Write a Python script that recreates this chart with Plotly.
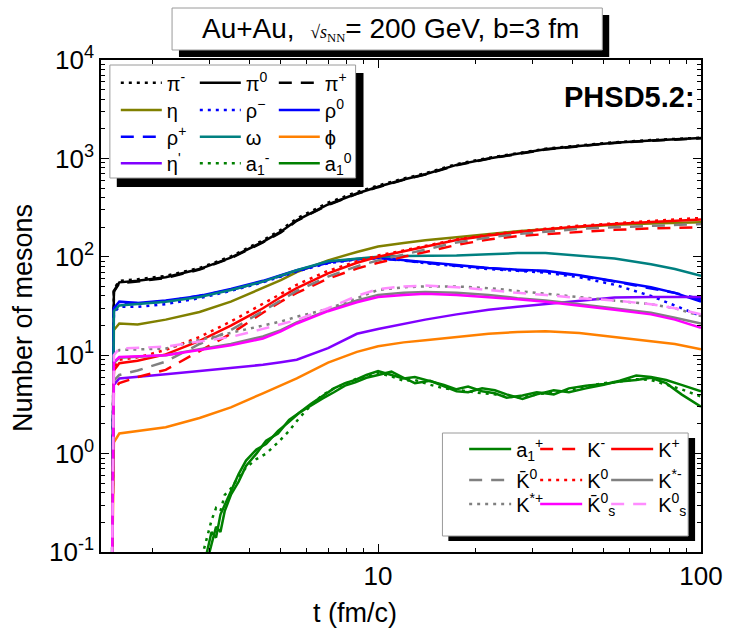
import plotly.graph_objects as go

# ---------------- data ----------------
t = [1.50, 1.52, 1.58, 1.8, 2.2, 2.8, 3.5, 4.4, 5.0, 5.6, 7.0, 8.6, 10, 12, 14, 17.5,
     22, 27, 33, 42, 54, 70, 83, 100]

pi_minus = [0.05, 47, 57, 59, 64, 77, 101, 147, 188, 245, 355, 455, 530, 625, 705, 875,
            1015, 1135, 1255, 1355, 1460, 1535, 1585, 1625]
pi_zero = [0.05, 45, 55, 57, 62, 75, 98, 142, 180, 235, 340, 440, 515, 610, 690, 860,
           1000, 1120, 1240, 1340, 1445, 1520, 1570, 1610]
pi_plus = [0.05, 44, 54, 56, 61, 74, 97, 140, 177, 232, 336, 436, 510, 605, 685, 852,
           990, 1110, 1230, 1330, 1435, 1510, 1560, 1600]
eta = [0.05, 18, 21, 20.5, 23, 27.5, 35, 48, 58, 70, 92, 112, 127, 138, 147, 158,
       170, 182, 190, 200, 212, 218, 221, 224]
rho_minus = [0.05, 27, 31, 31, 33, 38, 45, 55, 63, 71, 86, 94, 97, 92, 86, 80,
             75, 72, 69, 62, 52, 40, 32, 25]
rho_zero = [0.05, 30, 35, 34, 36, 40, 47, 57, 65, 73, 88, 95, 98, 93, 88, 82,
            77, 74, 72, 65, 57, 49, 43, 35]
rho_plus = [0.05, 29, 34, 34, 35, 40, 46, 56, 64, 72, 87, 95, 97, 92, 87, 81,
            76, 73, 71, 64, 56, 48, 43, 37]
omega = [0.05, 28, 32, 33, 35, 39, 46, 56, 64, 73, 90, 96, 100, 102, 102, 103,
         106, 109, 109, 103, 96, 84, 75, 64]
phi = [0.05, 1.3, 1.6, 1.7, 1.85, 2.3, 2.95, 4.1, 4.9, 5.8, 8.4, 10.8, 12.3, 13.5, 14.2, 15.4,
       16.5, 17.2, 17.5, 16.8, 15.3, 14.0, 13.0, 11.5]
eta_prime = [0.05, 5, 5.8, 6.0, 6.4, 6.9, 7.4, 8.0, 8.5, 9.0, 11.8, 16.5, 18.5, 21, 23, 26,
             29, 31, 33, 36, 38.5, 39, 39, 39]
k_minus = [0.05, 4.5, 5.2, 6, 7.1, 11, 16.5, 27, 35, 43, 60, 76, 87, 100, 112, 132,
           150, 162, 170, 180, 188, 194, 197, 200]
k_plus = [0.05, 7, 8.3, 8.8, 10.2, 14, 20, 30, 39, 48, 68, 87, 100, 113, 126, 148,
          165, 178, 190, 203, 216, 226, 233, 240]
k0_bar = [0.05, 5.5, 6.3, 7, 8.6, 13, 18, 28, 36, 45, 63, 80, 92, 105, 118, 140,
          157, 170, 180, 192, 200, 207, 211, 215]
k0 = [0.05, 7.5, 9, 9.5, 11.3, 15.3, 22, 33, 42, 52, 72, 90, 103, 116, 129, 150,
      168, 181, 193, 207, 220, 232, 240, 248]
kstar_minus = [0.05, 8.3, 9.4, 9.6, 10, 11.5, 13, 15.5, 18, 21.5, 28.5, 36, 41, 43, 44, 43,
               41, 38, 36, 33, 30, 27, 24, 21]
kstar_plus = [0.05, 10, 11.3, 11.5, 11.7, 14.3, 16.8, 20, 22, 24.6, 29.5, 38, 46, 49, 50, 50,
              48, 45, 42, 39, 36, 33, 30, 25]
k0bar_s = [0.05, 8.5, 9.6, 9.7, 10, 11.3, 12.6, 14.8, 17.5, 21, 28, 34.5, 39, 41, 42, 41,
           39, 37, 35, 32, 29, 26, 23, 19]
k0_s = [0.05, 10, 11.7, 11.9, 12.2, 13.8, 15.3, 18.5, 20.5, 22.8, 30, 40, 47, 50, 51, 49,
        46, 43, 41, 38, 36, 33, 30, 26]

t_a1 = [2.85, 2.95, 3.05, 3.15, 3.25, 3.35, 3.5, 3.7, 3.9, 4.2, 4.5, 4.9, 5.3, 5.7, 6.2,
        6.7, 7.3, 7.9, 8.5, 9.2, 10, 11, 12, 13, 14.5, 16, 17.5, 19, 21, 23, 25, 28, 31,
        35, 39, 44, 50, 56, 63, 70, 78, 87, 100]
a1_plus = [0.06, 0.1, 0.16, 0.14, 0.24, 0.3, 0.42, 0.62, 0.85, 1.1, 1.25, 1.7, 2.1, 2.6, 3.2,
           3.8, 4.6, 5.2, 5.6, 6.3, 6.9, 6.3, 5.8, 6.0, 5.4, 5.0, 4.5, 4.8, 4.3, 4.1, 3.7, 3.9,
           4.2, 4.0, 4.6, 4.9, 5.1, 5.4, 5.6, 5.9, 5.2, 4.0, 3.0]
a1_zero = [0.05, 0.08, 0.12, 0.18, 0.16, 0.26, 0.38, 0.52, 0.75, 1.0, 1.35, 1.6, 2.2, 2.6, 3.1,
           3.6, 4.2, 4.9, 5.3, 5.9, 6.3, 6.8, 5.9, 5.2, 5.5, 4.8, 4.3, 4.2, 4.6, 4.4, 4.0, 3.6,
           4.0, 4.4, 4.2, 4.6, 5.0, 5.5, 6.2, 6.0, 5.6, 5.0, 4.3]
a1_minus = [0.09, 0.14, 0.21, 0.28, 0.26, 0.38, 0.44, 0.58, 0.72, 0.88, 1.0, 1.3, 1.7, 2.3, 3.1,
            3.9, 4.6, 5.1, 5.7, 6.1, 6.6, 6.1, 5.5, 5.6, 5.0, 4.6, 4.4, 4.3, 4.1, 4.0, 3.8, 3.7,
            4.0, 4.2, 4.4, 4.8, 5.2, 5.4, 5.7, 5.6, 5.0, 4.5, 3.8]

y_tick_vals = [0.1, 1, 10, 100, 1000, 10000]
y_tick_text = ["10<sup>-1</sup>", "10<sup>0</sup>", "10<sup>1</sup>", "10<sup>2</sup>",
               "10<sup>3</sup>", "10<sup>4</sup>"]
x_tick_vals = [10, 100]
x_tick_text = ["10", "100"]

# ---------------- styles ----------------
BLACK, OLIVE, BLUE, TEAL = "#000000", "#808000", "#0000FF", "#008080"
ORANGE, PURPLE, GREEN, RED = "#FF8000", "#8000FF", "#008000", "#FF0000"
GRAY, MAGENTA, PINK = "#808080", "#FF00FF", "#FF8CFF"
DOT = "3px,5px"
DASH = "13px,9px"

# (name, x, y, color, dash, legend, column)
series = [
    ("π<sup>-</sup>", t, pi_minus, BLACK, DOT, "legend", 0),
    ("π<sup>0</sup>", t, pi_zero, BLACK, "solid", "legend", 1),
    ("π<sup>+</sup>", t, pi_plus, BLACK, DASH, "legend", 2),
    ("η", t, eta, OLIVE, "solid", "legend2", 0),
    ("ρ<sup>−</sup>", t, rho_minus, BLUE, DOT, "legend2", 1),
    ("ρ<sup>0</sup>", t, rho_zero, BLUE, "solid", "legend2", 2),
    ("ρ<sup>+</sup>", t, rho_plus, BLUE, DASH, "legend3", 0),
    ("ω", t, omega, TEAL, "solid", "legend3", 1),
    ("ϕ", t, phi, ORANGE, "solid", "legend3", 2),
    ("η<sup>'</sup>", t, eta_prime, PURPLE, "solid", "legend4", 0),
    ("a<sub>1</sub><sup>-</sup>", t_a1, a1_minus, GREEN, DOT, "legend4", 1),
    ("a<sub>1</sub><sup>0</sup>", t_a1, a1_zero, GREEN, "solid", "legend4", 2),
    ("a<sub>1</sub><sup>+</sup>", t_a1, a1_plus, GREEN, "solid", "legend5", 0),
    ("K<sup>-</sup>", t, k_minus, RED, DASH, "legend5", 1),
    ("K<sup>+</sup>", t, k_plus, RED, "solid", "legend5", 2),
    ("K\u0304<sup>0</sup>", t, k0_bar, GRAY, DASH, "legend6", 0),
    ("K<sup>0</sup>", t, k0, RED, DOT, "legend6", 1),
    ("K<sup>*-</sup>", t, kstar_minus, GRAY, "solid", "legend6", 2),
    ("K<sup>*+</sup>", t, kstar_plus, GRAY, DOT, "legend7", 0),
    ("K\u0304<sup>0</sup><sub>s</sub>", t, k0bar_s, MAGENTA, "solid", "legend7", 1),
    ("K<sup>0</sup><sub>s</sub>", t, k0_s, PINK, DASH, "legend7", 2),
]

fig = go.Figure()
for name, xs, ys, col, dash, leg, column in series:
    extra = {"legendwidth": 45} if column == 2 else {}
    fig.add_trace(go.Scatter(
        x=xs, y=ys, mode="lines", name=name, legend=leg,
        line=dict(color=col, width=2.5, dash=dash), **extra,
    ))

W, H = 735, 633
L, R, T, B = 101, 26, 60, 81
PW, PH = W - L - R, H - T - B


def px(X):
    return (X - L) / PW


def py(Y):
    return (H - B - Y) / PH


FONT = "Liberation Sans, Arial, sans-serif"

legend_common = dict(orientation="h", xanchor="left", yanchor="middle",
                     bgcolor="rgba(0,0,0,0)", borderwidth=0,
                     traceorder="normal", tracegroupgap=0)
rows1 = [82.7, 110, 136.7, 163.3]
rows2 = [449, 480, 504]
legends = {}
for i, yy in enumerate(rows1):
    key = "legend" if i == 0 else f"legend{i + 1}"
    legends[key] = dict(legend_common, x=px(116), y=py(yy), entrywidth=23, itemwidth=41,
                        font=dict(family=FONT, size=20, color="black"))
for i, yy in enumerate(rows2):
    key = f"legend{i + 5}"
    legends[key] = dict(legend_common, x=px(469), y=py(yy), entrywidth=14, itemwidth=42,
                        font=dict(family=FONT, size=20, color="black"))

minor_y = [m * 10 ** e for e in range(-1, 4) for m in range(2, 10)]
minor_x = [m * 10 ** e for e in range(0, 2) for m in range(2, 10) if m * 10 ** e > 1.4]

axis_common = dict(showline=True, linecolor="black", linewidth=1.5, mirror="allticks",
                   ticks="inside", ticklen=8, tickwidth=1.2, tickcolor="black",
                   showgrid=False, zeroline=False,
                   tickfont=dict(family=FONT, size=26, color="black"))

fig.update_layout(
    width=W, height=H,
    margin=dict(l=L, r=R, t=T, b=B),
    paper_bgcolor="white", plot_bgcolor="white",
    font=dict(family=FONT, color="black"),
    xaxis=dict(axis_common, type="log", range=[0.142, 2.0],
               tickmode="array", tickvals=x_tick_vals, ticktext=x_tick_text,
               minor=dict(tickmode="array", tickvals=minor_x, ticks="inside",
                          ticklen=4, tickcolor="black", tickwidth=1)),
    yaxis=dict(axis_common, type="log", range=[-1, 4],
               tickmode="array", tickvals=y_tick_vals, ticktext=y_tick_text,
               minor=dict(tickmode="array", tickvals=minor_y, ticks="inside",
                          ticklen=4, tickcolor="black", tickwidth=1)),
    showlegend=True,
    **legends,
)

# legend boxes with drop shadows, title box
shapes = []
for (x0, y0, x1, y1), (sx0, sy0, sx1, sy1) in [
    ((110, 65, 359, 178), (117, 73, 367, 187)),
    ((447, 433, 696, 536), (453, 438, 703, 541)),
]:
    shapes.append(dict(type="rect", xref="paper", yref="paper", layer="below",
                       x0=px(sx0), x1=px(sx1), y0=py(sy1), y1=py(sy0),
                       fillcolor="black", line=dict(width=0)))
    shapes.append(dict(type="rect", xref="paper", yref="paper", layer="below",
                       x0=px(x0), x1=px(x1), y0=py(y1), y1=py(y0),
                       fillcolor="white", line=dict(color="#9a9a9a", width=1)))
# title box
shapes.append(dict(type="rect", xref="paper", yref="paper", layer="above",
                   x0=px(180), x1=px(616), y0=py(57), y1=py(15),
                   fillcolor="black", line=dict(width=0)))
shapes.append(dict(type="rect", xref="paper", yref="paper", layer="above",
                   x0=px(173), x1=px(609), y0=py(50), y1=py(8),
                   fillcolor="white", line=dict(color="#9a9a9a", width=1)))
fig.update_layout(shapes=shapes)

fig.add_annotation(
    x=px(394), y=py(29), xref="paper", yref="paper", showarrow=False,
    xanchor="center", yanchor="middle",
    text=("Au+Au,  <span style='font-family:Liberation Serif;font-size:18px'>√<i>s</i>"
          "<sub>NN</sub></span>= 200 GeV, b=3 fm"),
    font=dict(family=FONT, size=28, color="black"),
)
fig.add_annotation(
    x=px(705), y=py(97), xref="paper", yref="paper", showarrow=False,
    xanchor="right", yanchor="middle",
    text="<b>PHSD5.2:</b>",
    font=dict(family=FONT, size=29, color="black"),
)
# axis titles
fig.add_annotation(
    x=px(358), y=py(613), xref="paper", yref="paper", showarrow=False,
    xanchor="center", yanchor="middle", text="t (fm/c)",
    font=dict(family=FONT, size=27, color="black"),
)
fig.add_annotation(
    x=px(22), y=py(318), xref="paper", yref="paper", showarrow=False,
    xanchor="center", yanchor="middle", text="Number of mesons", textangle=-90,
    font=dict(family=FONT, size=27, color="black"),
)

fig.write_html("out.html", config={"displayModeBar": False},
               post_script="document.body.style.margin='0px';")
